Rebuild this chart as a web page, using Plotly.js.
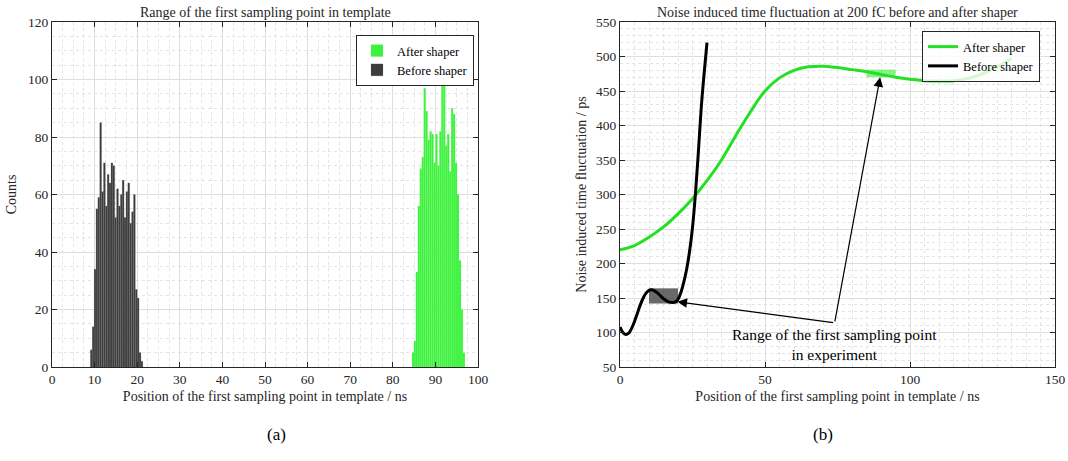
<!DOCTYPE html>
<html>
<head>
<meta charset="utf-8">
<script src="https://cdn.plot.ly/plotly-3.0.1.min.js"></script>
<style>html,body{margin:0;padding:0;background:#fff;}#chart{width:1068px;height:461px;}</style>
</head>
<body>
<div id="chart"></div>
<script>
// ---------- (a) histogram data ----------
const beforeBinStart = 9.0;
const beforeBinWidth = 0.44;
const beforeCounts = [6, 14, 34, 55, 59, 85, 61, 71, 56, 67, 64, 71, 70, 52, 62, 56, 60, 65, 52, 61, 64, 50, 54, 60, 27, 24, 5, 2];
const afterBinStart = 84.5;
const afterBinWidth = 0.46;
const afterCounts = [5, 9, 33, 56, 69, 73, 97, 89, 79, 82, 81, 71, 81, 70, 82, 104, 99, 77, 81, 68, 90, 88, 71, 60, 37, 20, 5];

// ---------- (b) curve data ----------
const afterX = [0, 5, 10, 15, 20, 25, 30, 35, 40, 45, 50, 55, 60, 65, 70, 75, 80, 85, 90, 95, 100, 105, 110, 115, 120, 125, 130, 135];
const afterY = [220, 226, 238, 253, 272, 294, 320, 350, 386, 420, 450, 469, 480, 485, 486, 484, 481, 478, 474, 470, 467, 465, 464.5, 465, 468, 475, 485, 497];
const beforeX = [0, 1, 2, 3, 4, 5, 6, 7, 8, 9, 10, 11, 12, 13, 14, 15, 16, 17, 18, 19, 20, 21, 22, 23, 24, 25, 26, 27, 28, 29, 30];
const beforeY = [108, 100, 97, 99, 106, 116, 128, 140, 150, 157, 161, 162, 160, 157, 153, 149, 146, 144, 143.5, 144, 148, 158, 173, 192, 218, 252, 300, 360, 425, 475, 520];

// experiment ranges (x range, y range)
const beforeRangeX = [10, 20];
const beforeRangeY = [142, 164];
const afterRangeX = [85, 95];
const afterRangeY = [470, 481];
const arrowVertex = [74, 114];
const beforeArrowTip = [19.8, 144.6];
const afterArrowTip = [89.7, 470];

const titleA = "Range of the first sampling point in template";
const titleB = "Noise induced time fluctuation at 200 fC before and after shaper";
const xTitle = "Position of the first sampling point in template / ns";
const yTitleA = "Counts";
const yTitleB = "Noise induced time fluctuation / ps";
const noteText = "Range of the first sampling point<br>in experiment";

function centers(start, w, n) { const a = []; for (let i = 0; i < n; i++) a.push(start + w * (i + 0.5)); return a; }

const FONT = "Liberation Serif, Times New Roman, serif";
const AX = '#262626';

const traces = [
  { type: 'bar', name: 'After shaper', x: centers(afterBinStart, afterBinWidth, afterCounts.length), y: afterCounts,
    width: afterBinWidth, marker: { color: '#3df23d', line: { color: 'rgba(120,250,120,0.6)', width: 0.3 } },
    xaxis: 'x', yaxis: 'y', legend: 'legend' },
  { type: 'bar', name: 'Before shaper', x: centers(beforeBinStart, beforeBinWidth, beforeCounts.length), y: beforeCounts,
    width: beforeBinWidth, marker: { color: '#3c3c3c', line: { color: 'rgba(120,120,120,0.6)', width: 0.3 } },
    xaxis: 'x', yaxis: 'y', legend: 'legend' },
  { type: 'scatter', mode: 'lines', name: 'After shaper', x: afterX, y: afterY, line: { color: '#22e022', width: 3, shape: 'spline' },
    xaxis: 'x2', yaxis: 'y2', legend: 'legend2' },
  { type: 'scatter', mode: 'lines', name: 'Before shaper', x: beforeX, y: beforeY, line: { color: '#000000', width: 3, shape: 'spline' },
    xaxis: 'x2', yaxis: 'y2', legend: 'legend2' }
];

const W = 1068, H = 461;
const px = v => v / W, py = v => 1 - v / H;

function axisBase(extra) {
  return Object.assign({
    showline: true, linecolor: AX, linewidth: 1, mirror: 'ticks',
    ticks: 'inside', ticklen: 5, tickcolor: AX, tickwidth: 1,
    showgrid: true, gridcolor: '#dedede', gridwidth: 1,
    zeroline: false, tickfont: { family: FONT, size: 13.5, color: AX },
    fixedrange: true
  }, extra);
}

const layout = {
  width: W, height: H,
  margin: { l: 0, r: 0, t: 0, b: 0 },
  paper_bgcolor: '#fff', plot_bgcolor: '#fff',
  barmode: 'overlay', bargap: 0,
  font: { family: FONT, color: AX },
  showlegend: true,
  xaxis: axisBase({ domain: [px(52), px(478)], range: [0, 100], dtick: 10, anchor: 'y',
    minor: { dtick: 2.5, showgrid: true, gridcolor: '#e4e4e4', griddash: 'dot' },
    title: { text: xTitle, font: { family: FONT, size: 14, color: AX }, standoff: 4 } }),
  yaxis: axisBase({ domain: [py(367), py(22)], range: [0, 120], dtick: 20, anchor: 'x',
    minor: { dtick: 5, showgrid: true, gridcolor: '#e4e4e4', griddash: 'dot' },
    title: { text: yTitleA, font: { family: FONT, size: 14, color: AX }, standoff: 8 } }),
  xaxis2: axisBase({ domain: [px(620), px(1055)], range: [0, 150], dtick: 50, anchor: 'y2',
    minor: { dtick: 5, showgrid: true, gridcolor: '#e4e4e4', griddash: 'dot' },
    title: { text: xTitle, font: { family: FONT, size: 14, color: AX }, standoff: 4 } }),
  yaxis2: axisBase({ domain: [py(367), py(22)], range: [50, 550], dtick: 50, anchor: 'x2',
    minor: { dtick: 10, showgrid: true, gridcolor: '#e4e4e4', griddash: 'dot' },
    title: { text: yTitleB, font: { family: FONT, size: 14, color: AX }, standoff: 6 } }),
  legend: { x: px(474), xanchor: 'right', y: py(35), yanchor: 'top', bgcolor: '#fff',
    bordercolor: AX, borderwidth: 1, font: { family: FONT, size: 12.5, color: '#000' },
    tracegroupgap: 0, itemwidth: 30, traceorder: 'normal' },
  legend2: { x: px(1040), xanchor: 'right', y: py(31), yanchor: 'top', bgcolor: 'rgba(255,255,255,0.8)',
    bordercolor: AX, borderwidth: 1, font: { family: FONT, size: 12.5, color: '#000' },
    tracegroupgap: 0, itemwidth: 30, traceorder: 'normal' },
  shapes: [
    { type: 'rect', xref: 'x2', yref: 'y2', x0: beforeRangeX[0], x1: beforeRangeX[1], y0: beforeRangeY[0], y1: beforeRangeY[1],
      fillcolor: 'rgba(80,80,80,0.85)', line: { width: 0 }, layer: 'between' },
    { type: 'rect', xref: 'x2', yref: 'y2', x0: afterRangeX[0], x1: afterRangeX[1], y0: afterRangeY[0], y1: afterRangeY[1],
      fillcolor: 'rgba(90,240,90,0.75)', line: { width: 0 }, layer: 'between' }
  ],
  annotations: [
    { text: titleA, xref: 'paper', yref: 'paper', x: px(265), y: py(13), showarrow: false,
      font: { family: FONT, size: 14, color: AX }, xanchor: 'center', yanchor: 'middle' },
    { text: titleB, xref: 'paper', yref: 'paper', x: px(837), y: py(13), showarrow: false,
      font: { family: FONT, size: 14, color: AX }, xanchor: 'center', yanchor: 'middle' },
    { text: '(a)', xref: 'paper', yref: 'paper', x: px(265), y: py(446), showarrow: false,
      font: { family: FONT, size: 17, color: '#000' } },
    { text: '(b)', xref: 'paper', yref: 'paper', x: px(835), y: py(446), showarrow: false,
      font: { family: FONT, size: 17, color: '#000' } },
    { text: noteText, xref: 'x2', yref: 'y2', x: arrowVertex[0], y: 83, showarrow: false,
      font: { family: FONT, size: 15.5, color: '#000' }, align: 'center' },
    { text: '', xref: 'x2', yref: 'y2', x: beforeArrowTip[0], y: beforeArrowTip[1],
      axref: 'x2', ayref: 'y2', ax: arrowVertex[0], ay: arrowVertex[1],
      showarrow: true, arrowhead: 2, arrowsize: 1.6, arrowwidth: 1.2, arrowcolor: '#000', standoff: 0 },
    { text: '', xref: 'x2', yref: 'y2', x: afterArrowTip[0], y: afterArrowTip[1],
      axref: 'x2', ayref: 'y2', ax: arrowVertex[0], ay: arrowVertex[1],
      showarrow: true, arrowhead: 2, arrowsize: 1.6, arrowwidth: 1.2, arrowcolor: '#000', standoff: 0 }
  ]
};

Plotly.newPlot('chart', traces, layout, { displayModeBar: false, staticPlot: true });
</script>
</body>
</html>
